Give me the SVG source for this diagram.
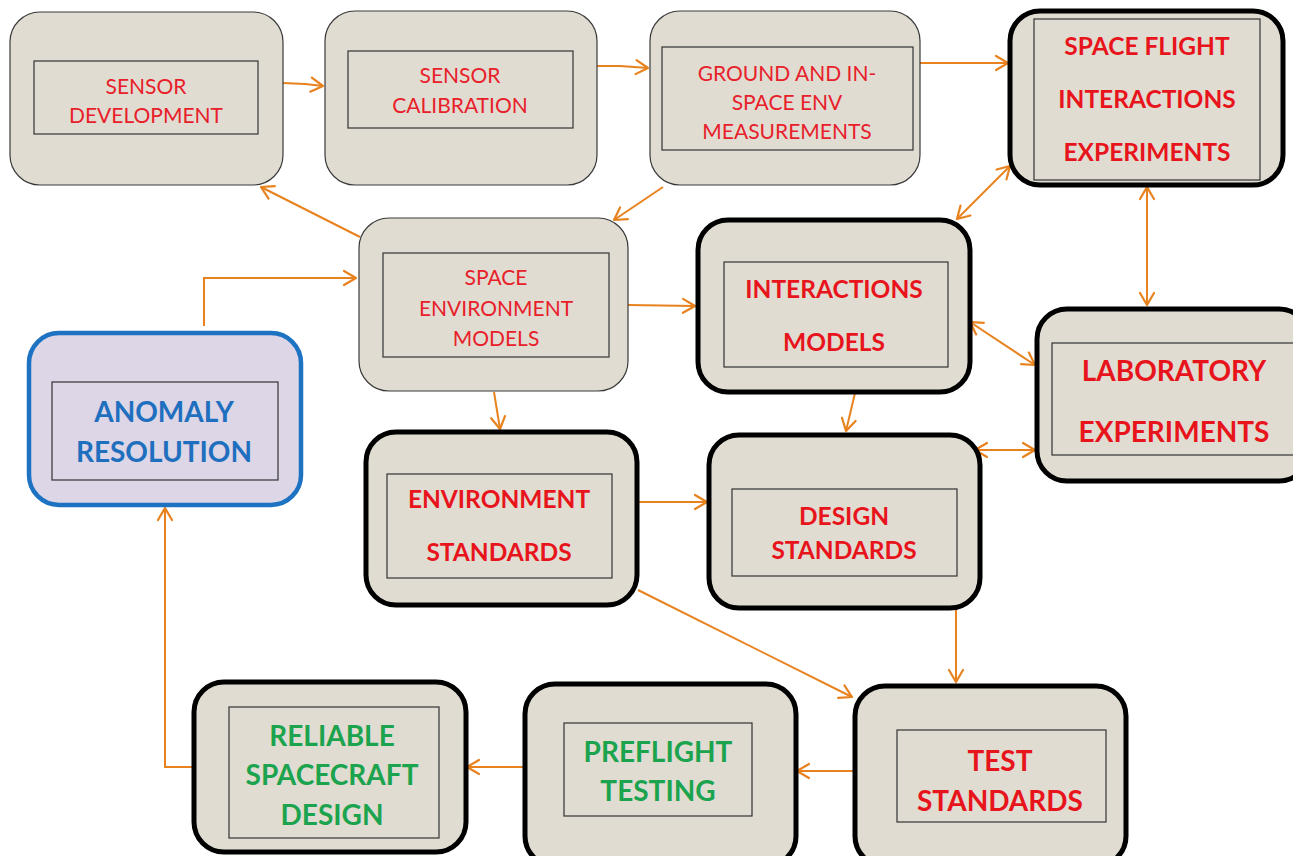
<svg xmlns="http://www.w3.org/2000/svg" width="1293" height="856" viewBox="0 0 1293 856">
  <defs>
    <marker id="arr" markerUnits="userSpaceOnUse" markerWidth="16" markerHeight="18" viewBox="0 0 16 18" refX="14" refY="9" orient="auto-start-reverse">
      <path d="M2,2 L14,9 L2,16" fill="none" stroke="#e8821e" stroke-width="2.2" stroke-linecap="round" stroke-linejoin="round"/>
    </marker>
    <style>
      .box { fill: #e0dcd2; stroke: #3a3a3a; stroke-width: 1.2; }
      .box-strong { fill: #e0dcd2; stroke: #000; stroke-width: 5; }
      .box-blue { fill: #dcd6e6; stroke: #1d72c2; stroke-width: 4.5; }
      .inner { fill: none; stroke: #333; stroke-width: 1.2; }
      .t { font-family: Lato, "Open Sans", "Liberation Sans", sans-serif; text-anchor: middle; dominant-baseline: central; }
      .reg { fill: #e8202a; font-size: 21px; }
      .bold { fill: #e8141c; font-weight: bold; }
      .blue { fill: #1f6fbf; font-weight: bold; font-size: 28px; }
      .green { fill: #1ca34e; font-weight: bold; }
      .conn { fill: none; stroke: #e8821e; stroke-width: 2; }
    </style>
  </defs>

  <!-- connectors -->
  <g id="connectors">
    <path class="conn" d="M283,83 L305,84 L323,86" stroke-width="3" marker-end="url(#arr)"/>
    <path class="conn" d="M597,66 L620,66 L648,68" marker-end="url(#arr)"/>
    <path class="conn" d="M920,63 L1008,63" marker-end="url(#arr)"/>
    <path class="conn" d="M663,187 L614,220" marker-end="url(#arr)"/>
    <path class="conn" d="M360,237 L261,187" stroke-width="3" marker-end="url(#arr)"/>
    <path class="conn" d="M204,326 L204,278 L356,278" marker-end="url(#arr)"/>
    <path class="conn" d="M628,305 L695,306" marker-end="url(#arr)"/>
    <path class="conn" d="M494,392 L500,429" marker-end="url(#arr)"/>
    <path class="conn" d="M957,219 L1010,166" marker-start="url(#arr)" marker-end="url(#arr)"/>
    <path class="conn" d="M1147,187 L1147,305" marker-start="url(#arr)" marker-end="url(#arr)"/>
    <path class="conn" d="M970,322 L1035,365" marker-start="url(#arr)" marker-end="url(#arr)"/>
    <path class="conn" d="M855,393 L846,431" marker-end="url(#arr)"/>
    <path class="conn" d="M975,450 L1035,450" marker-start="url(#arr)" marker-end="url(#arr)"/>
    <path class="conn" d="M637,502 L707,502" marker-end="url(#arr)"/>
    <path class="conn" d="M638,590 L852,697" marker-end="url(#arr)"/>
    <path class="conn" d="M956,609 L956,682" marker-end="url(#arr)"/>
    <path class="conn" d="M855,771 L797,771" marker-end="url(#arr)"/>
    <path class="conn" d="M524,767 L467,767" marker-end="url(#arr)"/>
    <path class="conn" d="M193,767 L165,767 L165,508" marker-end="url(#arr)"/>
  </g>

  <!-- SENSOR DEVELOPMENT -->
  <g id="sensor-development">
    <rect class="box" x="10" y="12" width="273" height="173" rx="30"/>
    <rect class="inner" x="34" y="61" width="224" height="73"/>
    <text class="t reg" x="146" y="85">SENSOR</text>
    <text class="t reg" x="146" y="114">DEVELOPMENT</text>
  </g>

  <!-- SENSOR CALIBRATION -->
  <g id="sensor-calibration">
    <rect class="box" x="325" y="11" width="272" height="174" rx="30"/>
    <rect class="inner" x="348" y="51" width="225" height="77"/>
    <text class="t reg" x="460" y="74">SENSOR</text>
    <text class="t reg" x="460" y="104">CALIBRATION</text>
  </g>

  <!-- GROUND AND IN-SPACE ENV MEASUREMENTS -->
  <g id="ground-measurements">
    <rect class="box" x="650" y="11" width="270" height="174" rx="30"/>
    <rect class="inner" x="662" y="47" width="251" height="103"/>
    <text class="t reg" x="787" y="72">GROUND AND IN-</text>
    <text class="t reg" x="787" y="101">SPACE ENV</text>
    <text class="t reg" x="787" y="130">MEASUREMENTS</text>
  </g>

  <!-- SPACE FLIGHT INTERACTIONS EXPERIMENTS -->
  <g id="space-flight-experiments">
    <rect class="box-strong" x="1010" y="11" width="273" height="174" rx="30"/>
    <rect class="inner" x="1034" y="19" width="226" height="161"/>
    <text class="t bold" font-size="24.5" x="1147" y="45">SPACE FLIGHT</text>
    <text class="t bold" font-size="24.5" x="1147" y="98">INTERACTIONS</text>
    <text class="t bold" font-size="24.5" x="1147" y="151">EXPERIMENTS</text>
  </g>

  <!-- SPACE ENVIRONMENT MODELS -->
  <g id="space-environment-models">
    <rect class="box" x="359" y="218" width="269" height="173" rx="30"/>
    <rect class="inner" x="383" y="253" width="226" height="104"/>
    <text class="t reg" x="496" y="276">SPACE</text>
    <text class="t reg" x="496" y="307">ENVIRONMENT</text>
    <text class="t reg" x="496" y="337">MODELS</text>
  </g>

  <!-- INTERACTIONS MODELS -->
  <g id="interactions-models">
    <rect class="box-strong" x="698" y="220" width="272" height="172" rx="30"/>
    <rect class="inner" x="724" y="262" width="224" height="105"/>
    <text class="t bold" font-size="24.5" x="834" y="288">INTERACTIONS</text>
    <text class="t bold" font-size="24.5" x="834" y="341">MODELS</text>
  </g>

  <!-- LABORATORY EXPERIMENTS -->
  <g id="laboratory-experiments">
    <rect class="box-strong" x="1037" y="309" width="272" height="172" rx="30"/>
    <rect class="inner" x="1052" y="343" width="250" height="112"/>
    <text class="t bold" font-size="28" x="1174" y="370">LABORATORY</text>
    <text class="t bold" font-size="28" x="1174" y="431">EXPERIMENTS</text>
  </g>

  <!-- ANOMALY RESOLUTION -->
  <g id="anomaly-resolution">
    <rect class="box-blue" x="29" y="333" width="272" height="172" rx="30"/>
    <rect class="inner" x="52" y="382" width="226" height="98"/>
    <text class="t blue" x="164" y="411">ANOMALY</text>
    <text class="t blue" x="164" y="451">RESOLUTION</text>
  </g>

  <!-- ENVIRONMENT STANDARDS -->
  <g id="environment-standards">
    <rect class="box-strong" x="366" y="432" width="271" height="173" rx="30"/>
    <rect class="inner" x="387" y="474" width="225" height="104"/>
    <text class="t bold" font-size="24.5" x="499" y="498">ENVIRONMENT</text>
    <text class="t bold" font-size="24.5" x="499" y="551">STANDARDS</text>
  </g>

  <!-- DESIGN STANDARDS -->
  <g id="design-standards">
    <rect class="box-strong" x="709" y="435" width="271" height="173" rx="30"/>
    <rect class="inner" x="732" y="489" width="225" height="87"/>
    <text class="t bold" font-size="24.5" x="844" y="515">DESIGN</text>
    <text class="t bold" font-size="24.5" x="844" y="549">STANDARDS</text>
  </g>

  <!-- TEST STANDARDS -->
  <g id="test-standards">
    <rect class="box-strong" x="855" y="686" width="271" height="180" rx="30"/>
    <rect class="inner" x="897" y="730" width="209" height="92"/>
    <text class="t bold" font-size="28" x="1000" y="760">TEST</text>
    <text class="t bold" font-size="28" x="1000" y="800">STANDARDS</text>
  </g>

  <!-- PREFLIGHT TESTING -->
  <g id="preflight-testing">
    <rect class="box-strong" x="525" y="684" width="271" height="182" rx="30"/>
    <rect class="inner" x="564" y="723" width="188" height="93"/>
    <text class="t green" font-size="28" x="658" y="751">PREFLIGHT</text>
    <text class="t green" font-size="28" x="658" y="790">TESTING</text>
  </g>

  <!-- RELIABLE SPACECRAFT DESIGN -->
  <g id="reliable-spacecraft-design">
    <rect class="box-strong" x="194" y="682" width="272" height="170" rx="30"/>
    <rect class="inner" x="229" y="707" width="210" height="131"/>
    <text class="t green" font-size="28" x="332" y="735">RELIABLE</text>
    <text class="t green" font-size="28" x="332" y="774">SPACECRAFT</text>
    <text class="t green" font-size="28" x="332" y="814">DESIGN</text>
  </g>
</svg>
